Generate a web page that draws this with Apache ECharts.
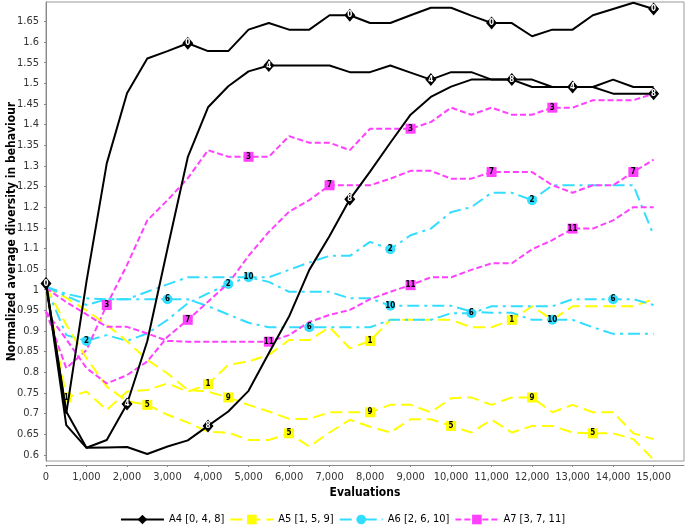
<!DOCTYPE html>
<html><head><meta charset="utf-8">
<script src="https://cdn.jsdelivr.net/npm/echarts@6/dist/echarts.min.js"></script>
<style>html,body{margin:0;padding:0;background:#fff}#c{width:685px;height:527px}</style>
</head><body><div id="c"></div>
<script>
const evaluations = [0,500,1000,1500,2000,2500,3000,3500,4000,4500,5000,5500,6000,6500,7000,7500,8000,8500,9000,9500,10000,10500,11000,11500,12000,12500,13000,13500,14000,14500,15000];

const line0  = [1.015,0.70,1.02,1.306,1.476,1.56,1.578,1.597,1.578,1.578,1.630,1.646,1.630,1.630,1.665,1.665,1.646,1.646,1.665,1.683,1.683,1.664,1.646,1.646,1.614,1.630,1.630,1.665,1.680,1.695,1.680];
const line4  = [1.015,0.705,0.617,0.636,0.723,0.875,1.10,1.321,1.442,1.493,1.529,1.543,1.543,1.543,1.543,1.527,1.527,1.543,1.526,1.509,1.527,1.527,1.509,1.509,1.491,1.491,1.491,1.491,1.509,1.491,1.491];
const line8  = [1.015,0.672,0.617,0.618,0.619,0.602,0.62,0.635,0.670,0.705,0.755,0.846,0.935,1.048,1.13,1.219,1.286,1.356,1.424,1.467,1.492,1.509,1.509,1.509,1.509,1.491,1.491,1.491,1.475,1.475,1.475];

const line1  = [1.007,0.739,0.753,0.709,0.753,0.757,0.773,0.753,0.771,0.818,0.826,0.842,0.878,0.878,0.909,0.858,0.876,0.927,0.927,0.927,0.927,0.909,0.909,0.927,0.96,0.927,0.96,0.96,0.96,0.96,0.977];
const line5  = [1.007,0.915,0.834,0.765,0.73,0.721,0.697,0.678,0.656,0.654,0.636,0.636,0.652,0.62,0.654,0.685,0.668,0.654,0.686,0.686,0.67,0.654,0.685,0.654,0.67,0.67,0.654,0.652,0.652,0.638,0.588];
const line9  = [1.007,0.98,0.95,0.915,0.875,0.83,0.797,0.757,0.753,0.739,0.721,0.705,0.687,0.687,0.703,0.703,0.703,0.721,0.721,0.703,0.737,0.739,0.721,0.739,0.739,0.703,0.721,0.703,0.703,0.652,0.638];

const line2  = [1.007,0.89,0.876,0.89,0.876,0.894,0.927,0.967,0.991,1.014,1.03,1.03,1.048,1.066,1.082,1.082,1.116,1.098,1.132,1.148,1.188,1.2,1.235,1.235,1.217,1.253,1.253,1.253,1.253,1.253,1.132];
const line6  = [1.007,0.99,0.979,0.977,0.977,0.977,0.977,0.977,0.96,0.94,0.92,0.909,0.909,0.909,0.909,0.909,0.909,0.927,0.927,0.927,0.943,0.943,0.96,0.96,0.96,0.96,0.977,0.977,0.977,0.977,0.963];
const line10 = [1.007,0.985,0.963,0.977,0.977,0.995,1.013,1.03,1.03,1.03,1.03,1.019,0.995,0.995,0.995,0.979,0.979,0.961,0.961,0.961,0.961,0.947,0.944,0.944,0.927,0.927,0.927,0.909,0.893,0.893,0.893];

const line3  = [0.947,0.81,0.854,0.963,1.06,1.168,1.217,1.27,1.338,1.322,1.322,1.322,1.372,1.356,1.356,1.338,1.39,1.39,1.39,1.406,1.441,1.424,1.441,1.424,1.424,1.441,1.441,1.459,1.459,1.459,1.475];
const line7  = [0.947,0.88,0.81,0.773,0.793,0.826,0.886,0.927,0.971,1.015,1.082,1.14,1.189,1.217,1.253,1.253,1.253,1.269,1.288,1.288,1.269,1.269,1.285,1.285,1.285,1.253,1.235,1.253,1.253,1.285,1.315];
const line11 = [1.004,0.97,0.94,0.91,0.91,0.894,0.876,0.874,0.874,0.874,0.874,0.874,0.89,0.922,0.939,0.951,0.977,0.995,1.011,1.03,1.03,1.048,1.064,1.064,1.098,1.12,1.148,1.148,1.168,1.2,1.2];

const lineValues = [line0,line1,line2,line3,line4,line5,line6,line7,line8,line9,line10,line11];
// indices (into evaluations) where a labelled marker is drawn on each line
const markerIdx = [
  [0,7,15,22,30],[1,8,16,23],[2,9,17,24],[3,10,18,25],
  [4,11,19,26],[5,12,20,27],[6,13,21,28],[7,14,22,29],
  [8,15,23,30],[9,16,24],[10,17,25],[11,18,26]
];
const groupNames = ['A4 [0, 4, 8]','A5 [1, 5, 9]','A6 [2, 6, 10]','A7 [3, 7, 11]'];

const FONT = "'DejaVu Sans Condensed','DejaVu Sans',sans-serif";
const groupStyle = [
  {color:'#000000', symbol:'diamond', size:[11,13], dash:'solid', width:2, labelColor:'#ffffff'},
  {color:'#FFFF00', symbol:'rect', size:10, dash:[12,6], width:2, labelColor:'#000000'},
  {color:'#33DDFF', symbol:'circle', size:10, dash:[12,5,3,5], width:2, labelColor:'#000000'},
  {color:'#FF40FF', symbol:'rect', size:10, dash:[6,3], width:2, labelColor:'#000000'}
];

const series = [];
for (let id = 0; id < 12; id++) {
  const g = id % 4;
  const st = groupStyle[g];
  const vals = lineValues[id];
  series.push({
    type:'line', name: groupNames[g], symbol: st.symbol, symbolSize: st.size,
    showSymbol: true, animation: false, z: 2 + (g===0?1:0),
    lineStyle: {color: st.color, width: st.width, type: st.dash},
    itemStyle: {color: st.color},
    emphasis: {disabled: true},
    data: vals.map((v,i) => markerIdx[id].includes(i)
      ? {value:[evaluations[i], v], label:{show:true, position:'inside', formatter:String(id), color: st.labelColor, fontSize:8, fontWeight:'bold', fontFamily:FONT}}
      : {value:[evaluations[i], v], symbol:'none'})
  });
}

const chart = echarts.init(document.getElementById('c'), null, {renderer:'canvas'});
chart.setOption({
  backgroundColor:'#ffffff',
  animation:false,
  grid:{left:46, top:2, width:638, height:459, show:true, borderColor:'#9a9a9a', borderWidth:1, containLabel:false, outerBoundsMode:'none'},
  legend:{
    data: groupNames, top: 509, left:'center', itemWidth:43, itemHeight:12, itemGap:5,
    textStyle:{fontFamily:FONT, fontSize:11, color:'#000'}
  },
  xAxis:{
    type:'value', min:0, max:15750, interval:1000, offset:4,
    name:'Evaluations', nameLocation:'middle', nameGap:22, nameMoveOverlap:false,
    nameTextStyle:{fontFamily:FONT, fontSize:12, fontWeight:'bold', color:'#000'},
    axisLine:{show:true, lineStyle:{color:'#888'}},
    axisTick:{show:true, length:2, lineStyle:{color:'#888'}},
    splitLine:{show:false},
    axisLabel:{showMaxLabel:false, margin:7, fontFamily:FONT, fontSize:11, color:'#333',
      formatter: v => v.toLocaleString('en-US')}
  },
  yAxis:{
    type:'value', min:0.585, max:1.697, splitNumber:22, offset:3,
    name:'Normalized average diversity in behaviour', nameLocation:'middle', nameGap:31, nameMoveOverlap:false,
    nameTextStyle:{fontFamily:FONT, fontSize:12, fontWeight:'bold', color:'#000', verticalAlign:'middle'},
    axisLine:{show:true, lineStyle:{color:'#888'}},
    axisTick:{show:true, length:2, lineStyle:{color:'#888'}},
    splitLine:{show:false},
    axisLabel:{showMinLabel:false, showMaxLabel:false, margin:4, fontFamily:FONT, fontSize:11, color:'#333'}
  },
  series: series
});
</script></body></html>
